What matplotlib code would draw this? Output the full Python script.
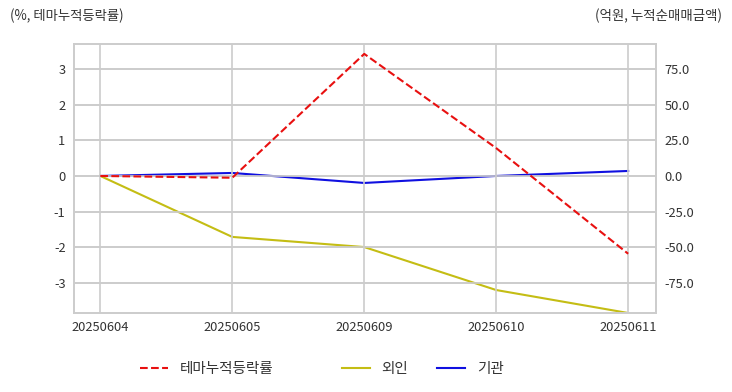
import matplotlib
matplotlib.use('Agg')
import matplotlib.pyplot as plt

plt.rcParams['font.family'] = ['Noto Sans CJK KR', 'DejaVu Sans']
plt.rcParams['axes.unicode_minus'] = False

dates = ['20250604', '20250605', '20250609', '20250610', '20250611']
theme_rate = [0.0, -0.05, 3.42, 0.78, -2.18]
foreign = [0.0, -42.7, -49.8, -79.9, -96.0]
institution = [0.0, 2.1, -4.9, 0.0, 3.5]

fig = plt.figure(figsize=(7.32, 3.92), dpi=100)
ax = fig.add_axes([0.101, 0.2015, 0.795, 0.6865])
ax2 = ax.twinx()

x = range(len(dates))
l1, = ax.plot(x, theme_rate, color='#e81010', linestyle='--', linewidth=1.5, label='테마누적등락률')
l2, = ax2.plot(x, foreign, color='#c4bd14', linewidth=1.5, label='외인')
l3, = ax2.plot(x, institution, color='#1010e0', linewidth=1.5, label='기관')

ax.set_xlim(-0.2, 4.21)
ax.set_ylim(-3.84, 3.70)
ax2.set_ylim(-3.84 * 25, 3.70 * 25)
ax.set_yticks([-3, -2, -1, 0, 1, 2, 3])
ax2.set_yticks([-75, -50, -25, 0, 25, 50, 75])
ax2.set_yticklabels(['%.1f' % v for v in [-75, -50, -25, 0, 25, 50, 75]])
ax.set_xticks(list(x))
ax.set_xticklabels(dates)

for a in (ax, ax2):
    a.grid(True, color='#cccccc', linewidth=1.2)
    a.tick_params(length=0, labelsize=9.3, labelcolor='#333333', pad=6)
    for s in a.spines.values():
        s.set_color('#cccccc')
        s.set_linewidth(1.2)
ax2.grid(axis='x', visible=False)
ax.set_axisbelow(True)
ax.set_zorder(ax2.get_zorder() + 1)
ax.patch.set_visible(False)

fig.text(10 / 732, 1 - 16 / 392, '(%, 테마누적등락률)', fontsize=9.6, color='#333333', va='center', ha='left')
fig.text(722 / 732, 1 - 16 / 392, '(억원, 누적순매매금액)', fontsize=9.7, color='#333333', va='center', ha='right')

# legend entries placed one by one like the original
for handle, left in [(l1, 140), (l2, 342), (l3, 437)]:
    leg = fig.legend(handles=[handle], loc='center left', bbox_to_anchor=(left / 732, 1 - 369 / 392),
                     frameon=False, fontsize=10.5, handlelength=1.9, handletextpad=0.82,
                     borderpad=0, borderaxespad=0)
    for t in leg.get_texts():
        t.set_color('#333333')

fig.savefig('out.png', dpi=100)
